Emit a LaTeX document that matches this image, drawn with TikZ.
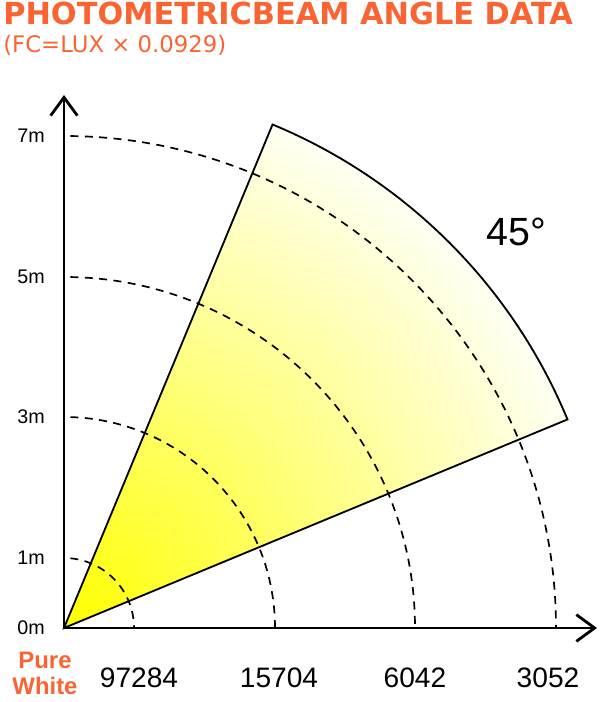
\documentclass[tikz,border=0pt]{standalone}
\usepackage{fontspec}
\setmainfont{Liberation Sans}
\newfontfamily\headfont{DejaVu Sans}
\usetikzlibrary{arrows.meta}
\definecolor{beamorange}{RGB}{250,100,50}
\definecolor{beamyellow}{RGB}{255,255,0}

\begin{document}
\begin{tikzpicture}[x=0.025cm, y=0.025cm,
  ring/.style={line width=1.2pt, dash pattern=on 0.2cm off 0.16cm, dash phase=0.2cm},
  dist/.style={anchor=east, inner sep=0pt, font=\fontsize{14}{16}\selectfont},
  lux/.style={inner sep=0pt, font=\fontsize{20}{24}\selectfont}]
\useasboundingbox (-64,-74) rectangle (536,628);
% Title
\node[anchor=west, inner sep=0pt, text=beamorange, font=\headfont\bfseries\fontsize{21.6}{24}\selectfont] (title) at (-61,615) {PHOTOMETRICBEAM ANGLE DATA};
\node[anchor=west, inner sep=0pt, text=beamorange, font=\headfont\fontsize{16.2}{18}\selectfont] (subtitle) at (-61,583) {(FC=LUX × 0.0929)};

\coordinate (O) at (0,0);
\coordinate (ytip) at (0,533);
\coordinate (xtip) at (533,0);
\coordinate (lower) at (22.5:545);

% Beam
\begin{scope}
\clip (O) -- (lower) arc[start angle=22.5, end angle=67.5, radius=545] -- cycle;
\shade[inner color=beamyellow, outer color=white] (O) circle[radius=570];
\end{scope}

% Distance rings
\foreach \r/\d in {70/1m, 211/3m, 351/5m, 492/7m} {
  \draw[ring] (0,\r) arc[start angle=90, end angle=0, radius=\r];
  \node[dist] (dist\d) at (-19,\r) {\d};
}
\draw[line width=1.3pt] (O) -- (lower) arc[start angle=22.5, end angle=67.5, radius=545] -- cycle;

% Axes
\draw[line width=2pt, {Straight Barb[length=13pt,width=19pt]}-{Straight Barb[length=13pt,width=19pt]}] (ytip) -- (O) -- (xtip);
\node[dist] (dist0m) at (-19,0) {0m};

\node[inner sep=0pt, font=\fontsize{28}{30}\selectfont] (angle) at (452,396) {45°};

% Lux values
\foreach \x/\v in {75/97284, 215/15704, 351/6042, 484/3052}
  \node[lux] (lux\v) at (\x,-50) {\v};
\node[align=center, text=beamorange, font=\bfseries\fontsize{17}{19}\selectfont, inner sep=0pt] (cct) at (-19,-45.5) {Pure\\White};
\end{tikzpicture}
\end{document}
